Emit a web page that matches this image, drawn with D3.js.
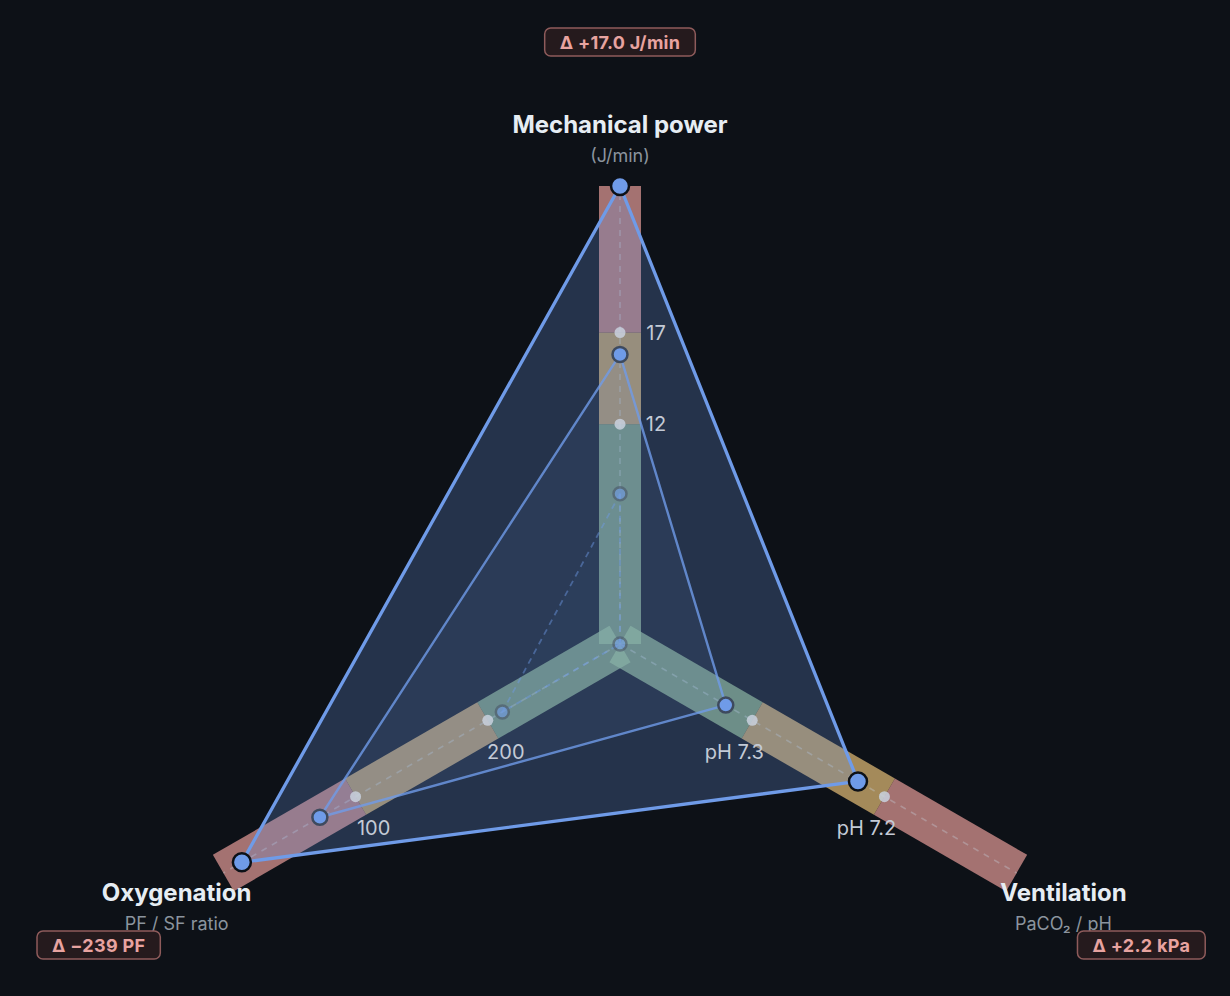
<!DOCTYPE html>
<html>
<head>
	<meta charset="utf-8">
	<title>Respiratory radar</title>
	<script src="https://d3js.org/d3.v7.min.js"></script>
	<style>
		html, body { margin: 0; padding: 0; background: #0d1117; }
		svg { display: block; font-family: Inter, "Noto Sans", sans-serif; }
	</style>
</head>
<body>
	<div id="chart"></div>
	<script>
		// Axes and their scales (value at centre, value at rim)
		const axes = ["Mechanical power", "Oxygenation", "Ventilation"];
		const axisUnits = ["(J/min)", "PF / SF ratio", "PaCO\u2082 / pH"];
		const axisDomains = [[0, 25], [300, 0], [7.4, 7.1]];

		// Threshold marks along each axis (green -> amber -> red)
		const thresholdValues = [[12, 17], [200, 100], [7.3, 7.2]];
		const thresholdLabels = [["12", "17"], ["200", "100"], ["pH 7.3", "pH 7.2"]];

		// Three snapshots
		const baselineValues = [8.2, 211, 7.40];
		const currentValues = [15.8, 73, 7.32];
		const worstValues = [25.2, 14, 7.22];

		const deltaLabels = ["\u0394 +17.0 J/min", "\u0394 \u2212239 PF", "\u0394 +2.2 kPa"];

		const width = 1230, height = 996;
		const cx = 620, cy = 644;
		const R = 458;
		const bandWidth = 42;
		const blue = "#6f9be8";
		const zoneColors = ["#96be8c", "#e6be78", "#e69b98"];

		const svg = d3.select("#chart")
			.append("svg")
			.attr("width", width)
			.attr("height", height);

		const g = svg.append("g").attr("transform", `translate(${cx},${cy})`);

		// angle of each axis in degrees (screen coords), starting at top
		const angleOf = i => -90 + i * 240 - (i === 2 ? 360 : 0);
		const dir = i => {
			const a = angleOf(i) * Math.PI / 180;
			return [Math.cos(a), Math.sin(a)];
		};
		const scales = axisDomains.map(dom => d3.scaleLinear().domain(dom).range([0, R]).clamp(true));
		const pt = (i, v) => {
			const r = scales[i](v);
			const [dx, dy] = dir(i);
			return [dx * r, dy * r];
		};

		// Coloured zone bands along each axis
		axes.forEach((name, i) => {
			const cuts = [0, ...thresholdValues[i].map(v => scales[i](v)), R];
			const band = g.append("g").attr("transform", `rotate(${angleOf(i)})`);
			for (let k = 0; k < 3; k++) {
				band.append("rect")
					.attr("x", cuts[k])
					.attr("y", -bandWidth / 2)
					.attr("width", cuts[k + 1] - cuts[k])
					.attr("height", bandWidth)
					.attr("fill", zoneColors[k])
					.attr("fill-opacity", 0.7);
			}
		});

		// Spokes
		axes.forEach((name, i) => {
			const [dx, dy] = dir(i);
			g.append("line")
				.attr("x1", 0).attr("y1", 0)
				.attr("x2", dx * R).attr("y2", dy * R)
				.attr("stroke", "#c8d0dc")
				.attr("stroke-opacity", 0.35)
				.attr("stroke-width", 1.5)
				.attr("stroke-dasharray", "6,6");
		});

		const line = d3.line().curve(d3.curveLinearClosed);
		const snapshots = [
			{ values: worstValues, fillOp: 0.25, width: 3.3, op: 1, dash: null, r: 9, stroke: "#0d1117", ptOp: 1 },
			{ values: currentValues, fillOp: 0.08, width: 2.4, op: 0.8, dash: null, r: 7.5, stroke: "#3e4a5e", ptOp: 1 },
			{ values: baselineValues, fillOp: 0.03, width: 1.8, op: 0.45, dash: "6,5", r: 6.5, stroke: "#4a566a", ptOp: 0.6 }
		];

		// Polygon fills
		snapshots.forEach(s => {
			g.append("path")
				.attr("d", line(s.values.map((v, i) => pt(i, v))))
				.attr("fill", blue)
				.attr("fill-opacity", s.fillOp)
				.attr("stroke", "none");
		});

		// Threshold dots and labels
		axes.forEach((name, i) => {
			const [dx, dy] = dir(i);
			// perpendicular pointing down / right
			let px = -dy, py = dx;
			if (py < -0.01 || (Math.abs(py) < 0.01 && px < 0)) { px = -px; py = -py; }
			thresholdValues[i].forEach((v, k) => {
				const [x, y] = pt(i, v);
				g.append("circle")
					.attr("cx", x).attr("cy", y)
					.attr("r", 5.5)
					.attr("fill", "#c9d1de")
					.attr("fill-opacity", 0.85);
				g.append("text")
					.attr("x", x + px * 36)
					.attr("y", y + py * 36)
					.attr("text-anchor", "middle")
					.attr("dominant-baseline", "central")
					.style("font-size", "20px")
					.attr("fill", "#c3cad6")
					.text(thresholdLabels[i][k]);
			});
		});

		// Polygon outlines and vertices (baseline drawn first, worst on top)
		snapshots.slice().reverse().forEach(s => {
			const pts = s.values.map((v, i) => pt(i, v));
			g.append("path")
				.attr("d", line(pts))
				.attr("fill", "none")
				.attr("stroke", blue)
				.attr("stroke-width", s.width)
				.attr("stroke-opacity", s.op)
				.attr("stroke-linejoin", "round")
				.attr("stroke-dasharray", s.dash);
			g.selectAll(null)
				.data(pts)
				.enter().append("circle")
				.attr("cx", d => d[0])
				.attr("cy", d => d[1])
				.attr("r", s.r)
				.attr("fill", blue)
				.attr("stroke", s.stroke)
				.attr("stroke-width", 2.5)
				.attr("opacity", s.ptOp);
		});

		// Axis titles, units and delta badges
		axes.forEach((name, i) => {
			const [dx, dy] = dir(i);
			const tx = dx * 512, ty = dy * 512 - 8;
			g.append("text")
				.attr("x", tx).attr("y", ty)
				.attr("text-anchor", "middle")
				.attr("dominant-baseline", "central")
				.style("font-size", "24px")
				.style("font-weight", "bold")
				.attr("fill", "#e6edf3")
				.text(name);
			g.append("text")
				.attr("x", tx).attr("y", ty + 31)
				.attr("text-anchor", "middle")
				.attr("dominant-baseline", "central")
				.style("font-size", "18px")
				.attr("fill", "#8b949e")
				.text(axisUnits[i]);

			const bx = dx * 602, by = dy * 602;
			const badge = g.append("g").attr("transform", `translate(${bx},${by})`);
			const rect = badge.append("rect");
			const label = badge.append("text")
				.attr("text-anchor", "middle")
				.attr("dominant-baseline", "central")
				.style("font-size", "18px")
				.style("font-weight", "bold")
				.style("letter-spacing", "0.3px")
				.attr("fill", "#e8a3a0")
				.text(deltaLabels[i]);
			const w = label.node().getComputedTextLength() + 30;
			rect.attr("x", -w / 2).attr("y", -14)
				.attr("width", w).attr("height", 28)
				.attr("rx", 6)
				.attr("fill", "#251a1d")
				.attr("stroke", "#8e5b5b")
				.attr("stroke-width", 1.5);
		});
	</script>
</body>
</html>
